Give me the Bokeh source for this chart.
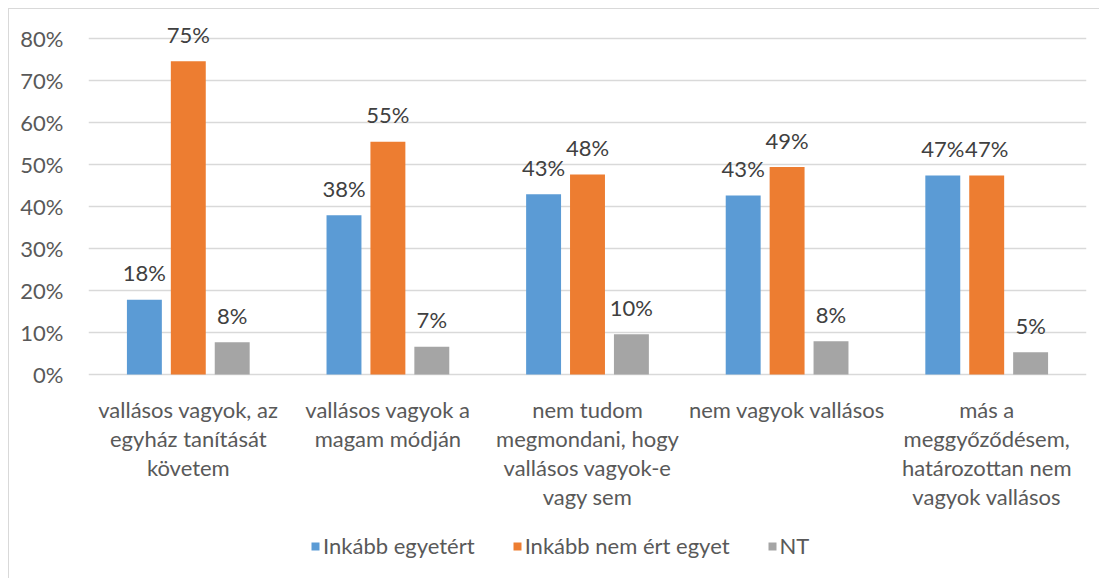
from bokeh.plotting import figure
from bokeh.models import Range1d, FixedTicker, NumeralTickFormatter, Legend, LegendItem, ColumnDataSource, FactorRange
from bokeh.transform import dodge
from bokeh.core.properties import value
from bokeh.embed import file_html
from bokeh.resources import INLINE

categories = [
    "vallásos vagyok, az\negyház tanítását\nkövetem",
    "vallásos vagyok a\nmagam módján",
    "nem tudom\nmegmondani, hogy\nvallásos vagyok-e\nvagy sem",
    "nem vagyok vallásos",
    "más a\nmeggyőződésem,\nhatározottan nem\nvagyok vallásos",
]
series_names = ["Inkább egyetért", "Inkább nem ért egyet", "NT"]
egyetert = [0.178, 0.379, 0.429, 0.426, 0.474]
nem_ert = [0.746, 0.554, 0.476, 0.494, 0.474]
nt = [0.077, 0.066, 0.096, 0.079, 0.053]
y_ticks = [0, 0.1, 0.2, 0.3, 0.4, 0.5, 0.6, 0.7, 0.8]

colors = ["#5B9BD5", "#ED7D31", "#A5A5A5"]
offsets = [-0.22, 0.0, 0.22]
FONT = "Lato"
FS = "22px"
TXT = "#595959"

p = figure(x_range=FactorRange(*categories), y_range=Range1d(-0.488, 0.869),
           width=1091, height=570, output_backend="svg", toolbar_location=None,
           min_border_left=79, min_border_right=14, min_border_top=0, min_border_bottom=0)
p.margin = (8, 0, 0, 8)
p.styles = {"border-left": "1px solid #D9D9D9", "border-top": "1px solid #D9D9D9"}
p.outline_line_color = None
p.background_fill_color = "white"

p.xaxis.visible = False
p.xgrid.grid_line_color = None
p.ygrid.grid_line_color = "#D9D9D9"
p.ygrid.grid_line_width = 1.3
p.yaxis.ticker = FixedTicker(ticks=y_ticks)
p.yaxis.formatter = NumeralTickFormatter(format="0%")
ax = p.yaxis[0]
ax.axis_line_color = None
ax.major_tick_line_color = None
ax.minor_tick_line_color = None
ax.major_label_text_font = FONT
ax.major_label_text_font_size = FS
ax.major_label_text_color = TXT
ax.major_label_standoff = 19

# category labels under the bars
cat_src = ColumnDataSource(dict(cat=categories, y0=[0] * len(categories)))
p.text(x="cat", y="y0", text="cat", source=cat_src, text_align="center", text_baseline="top",
       y_offset=21, text_line_height=1.08, text_font=value(FONT), text_font_size=FS,
       text_color=TXT)

renderers = []
for vals, col, off, name in zip([egyetert, nem_ert, nt], colors, offsets, series_names):
    src = ColumnDataSource(dict(cat=categories, v=vals, lab=[f"{x*100:.0f}%" for x in vals]))
    xd = dodge("cat", off, range=p.x_range)
    r = p.vbar(x=xd, top="v", width=0.175, source=src, fill_color=col, line_color=None)
    p.text(x=xd, y="v", text="lab", source=src, text_align="center", text_baseline="alphabetic",
           y_offset=-27, text_font=value(FONT), text_font_size=FS, text_color="#404040")
    renderers.append((name, r))

legend = Legend(items=[LegendItem(label=n, renderers=[r]) for n, r in renderers],
                orientation="horizontal", location=(222, 20), padding=0, margin=0,
                border_line_color=None, background_fill_alpha=0,
                glyph_width=10, glyph_height=10, label_standoff=3, spacing=37,
                label_text_font=FONT, label_text_font_size=FS, label_text_color=TXT)
p.add_layout(legend, "center")

open("out.html", "w").write(file_html(p, INLINE))
